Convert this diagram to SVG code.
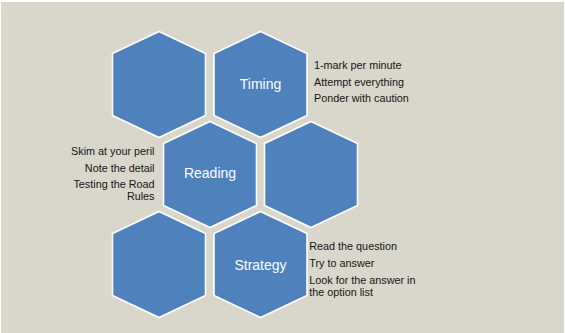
<svg xmlns="http://www.w3.org/2000/svg" xmlns:xlink="http://www.w3.org/1999/xlink" width="565" height="333" viewBox="0 0 565 333">
<style>
.hex{fill:#4F81BD;stroke:#FFFFFF;stroke-width:1.6;stroke-linejoin:miter}
.lbl{font-family:"Liberation Sans",Arial,sans-serif;font-size:14px;fill:#FFFFFF;text-anchor:middle}
.note{font-family:"Liberation Sans",Arial,sans-serif;font-size:10.8px;fill:#141414}
.r{text-anchor:end}
</style>
<defs>
<polygon id="hex" points="0,-53 46.5,-31 46.5,31 0,53 -46.5,31 -46.5,-31"/>
</defs>
<rect x="0" y="0" width="565" height="333" fill="#FFFFFF"/>
<rect x="1" y="2" width="563" height="331" fill="#D9D7CC"/>
<g id="connectors"></g>
<g id="hex-top-left"><use xlink:href="#hex" href="#hex" class="hex" x="159" y="84.5"/></g>
<g id="timing">
<use xlink:href="#hex" href="#hex" class="hex" x="260.5" y="84.5"/>
<text class="lbl" x="260.5" y="89.3">Timing</text>
<text class="note" x="314" y="69">1-mark per minute</text>
<text class="note" x="314" y="85.5">Attempt everything</text>
<text class="note" x="314" y="102">Ponder with caution</text>
</g>
<g id="reading">
<use xlink:href="#hex" href="#hex" class="hex" x="210" y="174.5"/>
<text class="lbl" x="210" y="178">Reading</text>
<text class="note r" x="154.5" y="155">Skim at your peril</text>
<text class="note r" x="154.5" y="171.5">Note the detail</text>
<text class="note r" x="154.5" y="188">Testing the Road</text>
<text class="note r" x="154.5" y="200">Rules</text>
</g>
<g id="hex-middle-right"><use xlink:href="#hex" href="#hex" class="hex" x="311" y="174.5"/></g>
<g id="hex-bottom-left"><use xlink:href="#hex" href="#hex" class="hex" x="159" y="264.5"/></g>
<g id="strategy">
<use xlink:href="#hex" href="#hex" class="hex" x="260.5" y="264.5"/>
<text class="lbl" x="260.5" y="269.5">Strategy</text>
<text class="note" x="309.3" y="250.3">Read the question</text>
<text class="note" x="309.3" y="267">Try to answer</text>
<text class="note" x="309.3" y="283.5">Look for the answer in</text>
<text class="note" x="309.3" y="295.5">the option list</text>
</g>
</svg>
